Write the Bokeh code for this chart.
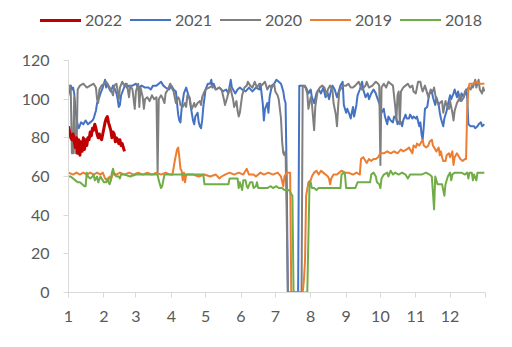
from bokeh.plotting import figure
from bokeh.layouts import column
from bokeh.models import Range1d, FixedTicker, ColumnDataSource, Div
from bokeh.embed import file_html
from bokeh.resources import INLINE

# x = day of year, y = value
d2022 = [1,2,3,4,5,6,7,8,9,10,11,12,13,14,15,16,17,18,19,20,21,22,23,24,25,26,27,28,29,30,31,32,33,34,35,36,37,38,39,40,41,42,43,44,45,46,47,48,49,50]
v2022 = [86,83,80,79,82,78,75,80,72,79,71,78,73,80,74,79,76,80,79,83,81,85,84,87,85,82,80,82,80,79,82,85,88,90,91,88,86,84,80,83,82,78,80,79,77,79,76,77,75,73]

d2021 = [1,2,3,4,5,6,7,8,9,10,12,14,16,18,20,22,23,25,26,28,29,31,32,33,34,35,37,38,40,41,43,44,45,46,47,49,51,52,54,57,60,62,65,68,71,73,75,78,80,82,84,86,89,91,93,95,96,97,98,99,100,102,104,105,107,108,110,111,112,114,115,116,117,118,119,121,123,125,126,127,128,130,133,136,139,141,143,144,146,147,149,151,153,156,159,162,165,168,169,171,172,173,175,176,177,179,181,183,185,187,189,190,191,192,193,202,203,206,209,211,213,214,216,218,220,222,224,226,228,229,231,232,234,236,238,239,241,242,244,245,247,248,250,251,253,254,256,258,259,261,263,264,266,268,270,271,273,274,275,277,278,280,281,283,285,286,288,289,291,292,293,294,296,297,299,300,302,303,305,306,308,309,310,311,312,313,315,316,317,319,320,322,323,325,326,327,329,330,332,333,335,336,338,339,341,342,344,345,347,348,349,350,351,353,356,357,359,360,362,363,365]
v2021 = [102,106,107,105,106,103,96,90,87,85,88,87,89,87,88,89,90,94,98,101,103,106,108,110,106,108,105,104,107,106,103,100,96,97,102,105,108,106,107,107,108,106,107,106,106,105,107,107,108,109,107,106,105,107,105,104,98,92,89,88,95,103,106,104,100,96,89,87,91,93,88,86,85,89,96,105,108,108,110,106,108,105,106,104,105,103,110,106,104,103,105,106,105,104,106,104,106,105,108,98,89,95,98,93,101,107,108,110,109,108,104,100,98,60,0,0,107,107,106,103,105,101,98,103,105,103,106,101,103,100,105,107,105,101,105,107,109,97,93,95,92,90,96,91,97,102,105,109,105,101,103,100,103,105,103,101,98,96,93,95,91,87,91,89,88,91,90,87,89,88,86,89,92,90,90,92,90,91,90,91,86,88,82,79,86,95,96,100,103,104,101,97,101,97,93,90,86,90,94,97,102,100,103,105,101,104,99,103,101,103,105,101,87,86,86,85,86,87,88,86,87]

d2020 = [1,2,3,4,5,6,7,8,9,11,14,17,20,23,25,26,27,28,30,32,34,36,38,40,41,43,44,45,46,48,50,52,54,55,57,59,60,62,63,64,66,67,68,70,72,74,76,78,79,80,82,83,85,86,88,90,92,93,95,97,98,99,101,103,104,105,107,108,109,111,112,114,116,117,118,120,121,124,127,130,133,135,137,138,140,142,143,145,146,148,149,150,151,153,155,157,158,160,162,164,166,168,170,173,175,177,179,181,182,184,185,187,188,189,190,191,192,193,205,206,208,210,211,213,214,216,217,219,221,223,225,227,228,230,232,233,235,236,237,238,240,242,244,246,248,250,252,255,258,261,262,264,267,270,272,273,274,275,277,279,281,283,285,287,288,289,290,291,292,294,296,298,300,302,303,305,307,309,310,311,313,315,316,318,320,321,323,325,326,328,329,331,332,334,335,337,338,339,341,342,344,345,347,348,350,351,353,354,355,357,358,360,361,363,364,365]
v2020 = [106,107,104,72,72,101,72,72,105,107,108,106,107,108,106,100,98,105,107,108,109,107,105,102,107,108,104,100,106,109,107,108,101,107,105,95,104,108,96,106,101,95,100,101,99,102,100,101,62,100,102,101,98,103,105,108,105,104,98,101,100,97,96,98,96,102,101,97,95,98,96,98,99,97,101,104,105,106,107,105,106,105,100,97,101,106,105,100,96,99,94,91,93,102,106,107,109,107,106,109,106,108,107,109,105,107,106,108,104,102,100,90,78,72,71,73,40,0,0,107,107,103,95,101,98,84,96,104,106,107,106,102,105,107,105,98,92,86,96,104,106,107,107,108,106,106,107,109,105,107,109,106,107,109,108,107,66,106,108,106,109,108,107,96,89,102,104,87,104,106,107,108,106,107,104,103,109,109,106,104,107,103,101,105,104,106,99,97,98,99,93,99,97,95,99,93,89,94,98,99,102,99,101,104,105,106,105,107,106,110,106,110,105,103,106,104]

d2019 = [1,5,8,11,14,17,20,23,26,29,31,33,35,37,38,40,43,46,50,54,58,62,66,70,74,78,82,86,90,92,94,96,97,98,99,100,101,102,103,104,106,110,115,120,125,130,133,135,138,142,146,150,154,157,159,163,165,169,172,176,180,184,187,189,190,192,195,196,206,207,208,209,211,213,214,216,218,220,222,224,226,228,229,230,231,233,236,238,240,243,246,250,253,256,257,259,261,262,264,266,268,270,272,274,277,280,283,286,289,292,294,297,299,301,302,303,305,306,308,310,311,312,314,316,317,319,320,321,323,325,326,327,328,329,331,332,334,335,337,338,339,341,342,344,346,348,349,350,351,352,355,358,361,364,365]
v2019 = [62,61,62,61,62,61,62,61,62,61,62,59,58,60,58,62,61,62,61,62,61,62,61,62,61,62,61,62,61,61,68,74,75,70,64,63,58,62,57,61,61,61,60,61,60,61,59,60,61,62,61,62,61,64,61,61,60,62,61,62,61,62,60,55,60,62,62,0,0,6,16,50,57,58,60,62,63,61,63,62,61,60,59,56,59,61,61,62,63,62,62,61,62,61,69,70,68,67,69,68,69,69,70,72,72,73,72,73,72,74,73,74,75,73,72,76,75,77,76,78,79,76,75,76,78,79,76,75,73,75,71,73,70,68,68,71,72,70,73,66,70,72,71,69,68,69,69,95,105,108,108,109,108,108,108]

d2018 = [1,3,5,7,9,11,13,15,16,17,18,20,22,23,24,26,27,29,31,32,34,35,36,37,38,39,40,41,43,45,46,47,50,55,60,62,66,70,74,77,79,80,82,83,84,85,90,95,100,105,110,115,119,120,125,130,135,140,141,142,146,149,150,151,152,153,154,156,157,158,160,162,163,165,166,167,170,175,178,180,183,185,188,190,194,196,197,198,210,212,213,214,216,218,220,224,228,232,236,239,240,242,243,244,248,252,254,257,261,265,266,268,270,271,273,274,275,277,280,281,283,285,287,290,293,296,298,300,303,306,310,314,317,319,321,322,324,326,328,330,331,333,335,336,337,339,342,345,348,350,351,352,354,355,356,358,359,361,365]
v2018 = [60,60,59,58,57,57,56,55,55,62,60,59,60,61,58,60,57,60,58,57,57,59,57,56,58,62,64,61,60,60,59,61,61,60,61,61,61,61,61,61,61,58,54,55,58,61,61,61,61,61,61,61,61,56,56,56,56,56,56,59,59,59,54,57,55,53,58,58,55,54,57,57,54,55,57,54,54,54,55,54,55,54,54,53,53,51,50,0,0,57,57,54,54,53,54,54,54,54,54,54,61,62,61,54,54,54,57,57,57,57,61,62,60,57,56,54,59,61,62,60,63,61,62,61,62,61,59,61,61,61,61,62,61,60,43,60,56,56,56,50,56,60,62,58,61,62,62,62,61,62,59,62,62,58,61,58,62,62,62]

series_labels = ["2022", "2021", "2020", "2019", "2018"]
month_ticks = [1, 32, 60, 91, 121, 152, 182, 213, 244, 274, 305, 335, 366]
month_labels = ["1", "2", "3", "4", "5", "6", "7", "8", "9", "10", "11", "12", ""]
y_ticks = [0, 20, 40, 60, 80, 100, 120]

FONT = "Lato"
TXT = "#595959"
AX = "#D9D9D9"

colors = {"2022": "#C00000", "2021": "#4472C4", "2020": "#7F7F7F", "2019": "#ED7D31", "2018": "#70AD47"}
widths = {"2022": 3, "2021": 2, "2020": 2, "2019": 2, "2018": 2}
data = {"2022": (d2022, v2022), "2021": (d2021, v2021), "2020": (d2020, v2020),
        "2019": (d2019, v2019), "2018": (d2018, v2018)}

# ---- legend strip (HTML) ----
parts = []
for i, s in enumerate(series_labels):
    left = 40 + 90 * i
    lw = widths[s]
    parts.append(
        f'<span style="position:absolute;left:{left}px;top:{20 - lw / 2}px;width:41px;height:0;'
        f'border-top:{lw}px solid {colors[s]};"></span>'
        f'<span style="position:absolute;left:{left + 45}px;top:10px;line-height:20px;'
        f'font-family:{FONT};font-size:16px;color:{TXT};white-space:nowrap;">{s}</span>'
    )
legend_html = '<div style="position:relative;width:512px;height:50px;">' + "".join(parts) + "</div>"
leg = Div(text=legend_html, width=512, height=50, margin=(0, 0, 0, 0))

# ---- main chart ----
p = figure(width=512, height=297, output_backend="svg", toolbar_location=None,
           x_range=Range1d(1, 366), y_range=Range1d(0, 120),
           min_border_left=68, min_border_right=27, min_border_top=10, min_border_bottom=55,
           margin=(0, 0, 0, 0))
p.outline_line_color = None
p.xgrid.visible = False
p.ygrid.visible = False
p.background_fill_color = "white"
p.border_fill_color = "white"

for ax in (p.xaxis[0], p.yaxis[0]):
    ax.axis_line_color = AX
    ax.major_tick_line_color = AX
    ax.minor_tick_line_color = None
    ax.major_tick_in = 0
    ax.major_tick_out = 5
    ax.major_label_text_font = FONT
    ax.major_label_text_font_size = "16px"
    ax.major_label_text_color = TXT

p.xaxis[0].major_label_standoff = 13
p.yaxis[0].major_label_standoff = 14
p.xaxis[0].ticker = FixedTicker(ticks=month_ticks)
p.xaxis[0].major_label_overrides = {t: l for t, l in zip(month_ticks, month_labels)}
p.yaxis[0].ticker = FixedTicker(ticks=y_ticks)

for s in ["2021", "2020", "2019", "2018", "2022"]:
    xs, ys = data[s]
    src = ColumnDataSource(dict(x=xs, y=ys))
    p.line("x", "y", source=src, line_color=colors[s], line_width=widths[s], line_join="round")

layout = column(leg, p, spacing=0)
open("out.html", "w").write(file_html(layout, INLINE))
